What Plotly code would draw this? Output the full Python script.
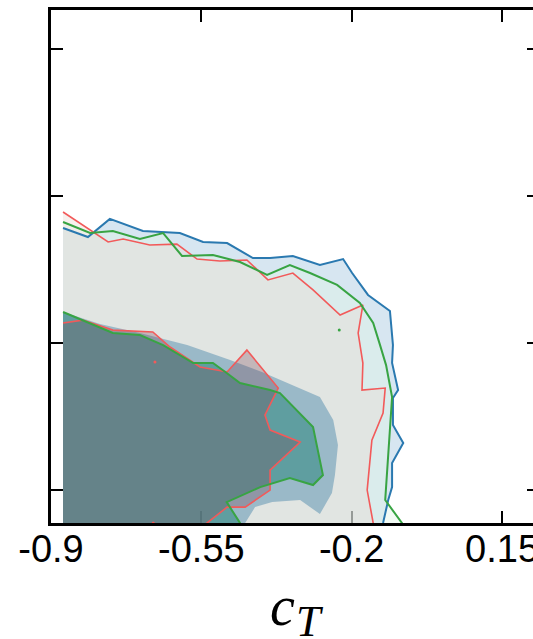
import plotly.graph_objects as go

# ---- axis ticks ----
x_ticks = [-0.9, -0.55, -0.2, 0.15]
x_tick_labels = ["-0.9", "-0.55", "-0.2", "0.15"]
y_ticks = [0, 1, 2, 3]

# ---- contour polygons (x = c_T, y = other parameter) ----
# first point is the lower-left corner (below the axis) used only for the fill
blue_outer_x = [-0.872, -0.872, -0.814, -0.763, -0.686, -0.600, -0.546, -0.490, -0.430, -0.390,
                -0.337, -0.274, -0.220, -0.199, -0.162, -0.111, -0.104, -0.106, -0.092, -0.104,
                -0.104, -0.080, -0.106, -0.106, -0.115, -0.127, -0.134]
blue_outer_y = [-0.30, 1.782, 1.721, 1.844, 1.762, 1.748, 1.687, 1.680, 1.578, 1.578,
                1.592, 1.531, 1.571, 1.476, 1.327, 1.218, 0.986, 0.864, 0.680, 0.626,
                0.442, 0.320, 0.184, 0.020, -0.068, -0.224, -0.30]

green_outer_x = [-0.872, -0.872, -0.809, -0.756, -0.693, -0.639, -0.595, -0.523, -0.460, -0.397,
                 -0.344, -0.297, -0.234, -0.181, -0.150, -0.134, -0.120, -0.106, -0.115, -0.122,
                 -0.083, -0.069]
green_outer_y = [-0.30, 1.823, 1.748, 1.762, 1.707, 1.748, 1.592, 1.599, 1.551, 1.463,
                 1.531, 1.476, 1.395, 1.272, 1.136, 0.986, 0.850, 0.633, 0.272, -0.068,
                 -0.224, -0.306]

red_outer_x = [-0.872, -0.872, -0.802, -0.767, -0.732, -0.670, -0.607, -0.560, -0.507, -0.444,
               -0.395, -0.337, -0.290, -0.227, -0.174, -0.185, -0.174, -0.176, -0.122, -0.127,
               -0.153, -0.164, -0.150, -0.146]
red_outer_y = [-0.30, 1.891, 1.755, 1.687, 1.707, 1.667, 1.673, 1.571, 1.558, 1.565,
               1.429, 1.476, 1.361, 1.190, 1.259, 1.068, 0.864, 0.680, 0.694, 0.524,
               0.340, 0.000, -0.224, -0.306]

blue_inner_x = [-0.872, -0.872, -0.786, -0.693, -0.583, -0.483, -0.409, -0.355, -0.274, -0.243,
                -0.232, -0.239, -0.246, -0.274, -0.320, -0.385, -0.425, -0.448, -0.455]
blue_inner_y = [-0.30, 1.211, 1.129, 1.068, 0.986, 0.884, 0.803, 0.735, 0.633, 0.476,
                0.306, 0.102, -0.020, -0.163, -0.068, -0.082, -0.116, -0.224, -0.306]

green_inner_x = [-0.872, -0.872, -0.756, -0.693, -0.639, -0.569, -0.523, -0.491, -0.460, -0.390,
                 -0.367, -0.290, -0.267, -0.290, -0.344, -0.413, -0.491, -0.460, -0.453]
green_inner_y = [-0.30, 1.211, 1.068, 1.054, 0.986, 0.864, 0.864, 0.796, 0.728, 0.680,
                 0.660, 0.429, 0.102, 0.034, 0.082, 0.020, -0.082, -0.224, -0.306]

red_inner_x = [-0.872, -0.872, -0.826, -0.756, -0.663, -0.623, -0.553, -0.490, -0.444, -0.371,
               -0.402, -0.390, -0.320, -0.390, -0.390, -0.448, -0.490, -0.537, -0.548]
red_inner_y = [-0.30, 1.136, 1.156, 1.088, 1.075, 0.973, 0.837, 0.803, 0.952, 0.694,
               0.510, 0.408, 0.327, 0.136, 0.000, -0.116, -0.116, -0.224, -0.306]

# tiny isolated contour islands
red_dots_x = [-0.658, -0.662]
red_dots_y = [0.871, -0.224]
green_dots_x = [-0.229]
green_dots_y = [1.088]

BLUE = "#2a79b0"
RED = "#f25a5a"
GREEN = "#38a443"

fig = go.Figure()


def add_fill(x, y, color):
    fig.add_trace(go.Scatter(x=x, y=y, mode="lines", fill="toself", fillcolor=color,
                             line=dict(width=0), hoverinfo="skip", showlegend=False))


def add_line(x, y, color, w):
    fig.add_trace(go.Scatter(x=x[1:], y=y[1:], mode="lines",
                             line=dict(color=color, width=w), hoverinfo="skip",
                             showlegend=False))


# outer (95%) fills
add_fill(blue_outer_x, blue_outer_y, "rgba(31,119,180,0.18)")
add_fill(green_outer_x, green_outer_y, "rgba(222,245,231,0.4)")
add_fill(red_outer_x, red_outer_y, "rgba(236,221,212,0.4)")
# inner (68%) fills
add_fill(blue_inner_x, blue_inner_y, "rgba(69,130,169,0.45)")
add_fill(green_inner_x, green_inner_y, "rgba(35,131,119,0.5)")
add_fill(red_inner_x, red_inner_y, "rgba(120,60,80,0.28)")

# contour lines
add_line(blue_outer_x, blue_outer_y, BLUE, 2)
add_line(red_outer_x, red_outer_y, RED, 1.6)
add_line(red_inner_x, red_inner_y, RED, 1.6)
add_line(green_outer_x, green_outer_y, GREEN, 2)
add_line(green_inner_x, green_inner_y, GREEN, 2)

fig.add_trace(go.Scatter(x=red_dots_x, y=red_dots_y, mode="markers",
                         marker=dict(color=RED, size=3), hoverinfo="skip", showlegend=False))
fig.add_trace(go.Scatter(x=green_dots_x, y=green_dots_y, mode="markers",
                         marker=dict(color=GREEN, size=3), hoverinfo="skip", showlegend=False))

axis_common = dict(showgrid=False, zeroline=False, showline=True, linecolor="black",
                   linewidth=2.5, mirror="ticks", ticks="inside", ticklen=12, tickwidth=2,
                   tickcolor="black", layer="below traces", automargin=False)

fig.update_xaxes(range=[-0.9, 0.236], tickvals=x_ticks, ticktext=x_tick_labels,
                 ticklabelstandoff=-9,
                 tickfont=dict(family="Liberation Sans, Arial, sans-serif", size=38, color="black"),
                 **axis_common)
fig.update_yaxes(range=[-0.224, 3.265], tickvals=y_ticks, showticklabels=False, **axis_common)

# x-axis title c_T (italic c with a large italic subscript T)
title_font = "Liberation Serif, Times New Roman, serif"
fig.add_annotation(text="<i>c</i>", xref="paper", yref="paper",
                   x=0.475, y=-0.098, xanchor="center", yanchor="top", showarrow=False,
                   font=dict(family=title_font, size=56, color="black"))
fig.add_annotation(text="<i>T</i>", xref="paper", yref="paper",
                   x=0.497, y=-0.141, xanchor="left", yanchor="top", showarrow=False,
                   font=dict(family=title_font, size=44, color="black"))

fig.update_layout(width=545, height=639, margin=dict(l=51, r=6, t=10, b=116),
                  plot_bgcolor="white", paper_bgcolor="white")

fig.write_html("out.html",
               post_script="document.documentElement.style.overflow='hidden';"
                           "document.body.style.overflow='hidden';")
